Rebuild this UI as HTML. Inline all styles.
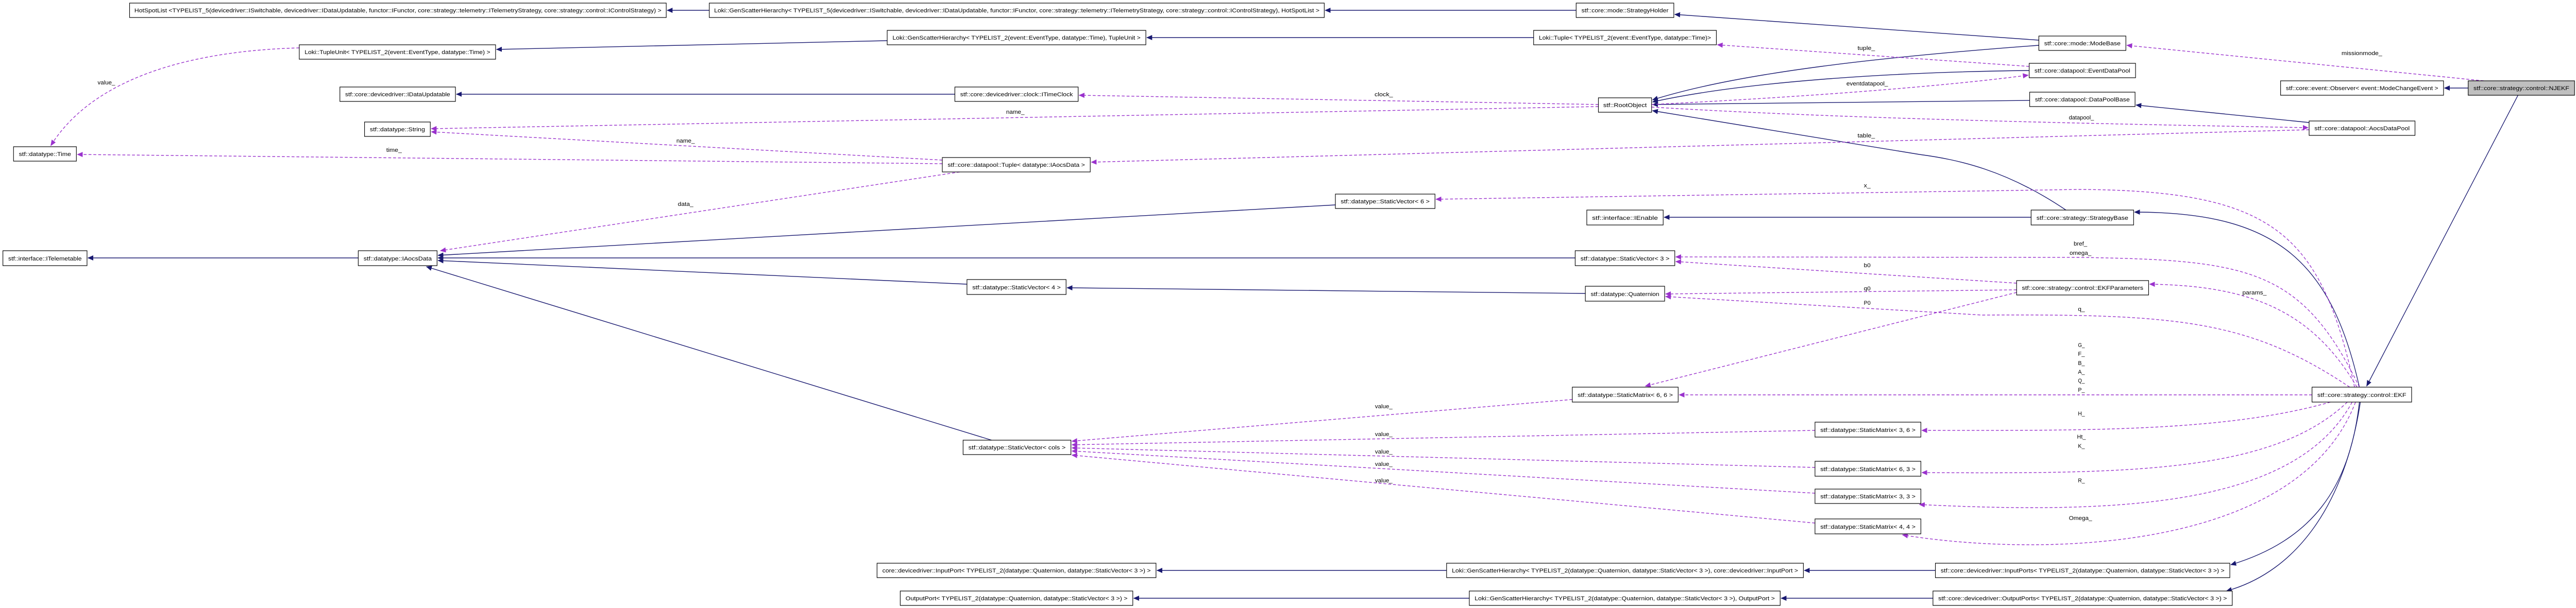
<!DOCTYPE html>
<html><head><meta charset="utf-8"><style>
html,body{margin:0;padding:0;background:#fff;overflow:hidden;width:100%;height:100%;}
#wrap{position:fixed;left:0;top:0;width:100vw;height:100vh;overflow:hidden;}
svg{display:block;width:100%;height:100%;}
text{font-family:"Liberation Sans",sans-serif;font-size:11px;fill:#000;}
.b{fill:#fff;stroke:#000;stroke-width:1.2;}
.s{fill:none;stroke:#191970;stroke-width:1.4;}
.d{fill:none;stroke:#9a32cd;stroke-width:1.4;stroke-dasharray:6,4;}
</style></head><body><div id="wrap">
<svg viewBox="0 0 5328 1181" preserveAspectRatio="none" xmlns="http://www.w3.org/2000/svg">
<defs>
<marker id="an" markerWidth="12" markerHeight="10" refX="11" refY="5" orient="auto" markerUnits="userSpaceOnUse"><path d="M0,0 L12,5 L0,10 z" fill="#191970"/></marker>
<marker id="ap" markerWidth="12" markerHeight="10" refX="11" refY="5" orient="auto" markerUnits="userSpaceOnUse"><path d="M0,0 L12,5 L0,10 z" fill="#9a32cd"/></marker>
</defs>

<g class="s" marker-end="url(#an)">
<path d="M1467,20 L1380,20"/>
<path d="M3260,20 L2741,20"/>
<path d="M4217,78 L3464,28"/>
<path d="M3172,73 L2372,73"/>
<path d="M1835,79 L1027,96"/>
<path d="M4217,88 C3900,110 3600,140 3418,194"/>
<path d="M4197,137 C3900,140 3600,160 3418,198"/>
<path d="M4198,195 L3418,203"/>
<path d="M4273,408 C4150,330 4050,310 3970,300 L3418,215"/>
<path d="M4776,238 L4418,204"/>
<path d="M5105,171 L5056,171"/>
<path d="M1975,183 L944,183"/>
<path d="M4880,752 C4820,500 4700,412 4415,412"/>
<path d="M5208,185 L4895,750"/>
<path d="M4201,422 L3442,422"/>
<path d="M2762,398 L906,496"/>
<path d="M3258,501 L906,501"/>
<path d="M2000,552 L906,506"/>
<path d="M2051,855 L882,518"/>
<path d="M741,501 L182,501"/>
<path d="M3279,570 L2207,559"/>
<path d="M2992,1108 L2393,1108"/>
<path d="M4003,1108 L3732,1108"/>
<path d="M3039,1162 L2345,1162"/>
<path d="M3998,1162 L3684,1162"/>
<path d="M4880,781 C4860,950 4780,1050 4614,1097"/>
<path d="M4882,781 C4850,980 4750,1110 4605,1148"/>
</g>

<g class="d" marker-end="url(#ap)">
<path d="M619,93 C350,100 180,170 105,283"/>
<path d="M1949,318 L160,300"/>
<path d="M3306,207 L892,250"/>
<path d="M1949,311 L892,256"/>
<path d="M3306,203 L2232,185"/>
<path d="M1985,334 L911,487"/>
<path d="M4197,129 L3552,87"/>
<path d="M3416,203 C3700,190 4000,170 4195,146"/>
<path d="M3416,208 C3800,230 4300,240 4774,248"/>
<path d="M4776,252 L2257,315"/>
<path d="M5137,157 L4399,88"/>
<path d="M4870,752 C4800,450 4700,370 4300,368 L2970,387"/>
<path d="M4880,752 C4760,520 4650,505 4300,500 L3466,499"/>
<path d="M4171,550 L3466,508"/>
<path d="M4171,563 L3445,571"/>
<path d="M4171,568 L3403,750"/>
<path d="M4860,752 C4650,620 4500,610 4100,612 L3445,576"/>
<path d="M4875,752 C4780,600 4650,555 4446,552"/>
<path d="M4782,767 L3473,767"/>
<path d="M4820,781 C4600,840 4300,836 3975,836"/>
<path d="M4855,781 C4700,920 4400,920 3975,918"/>
<path d="M4865,781 C4750,980 4400,1000 3970,980"/>
<path d="M4872,781 C4750,1080 4200,1080 3935,1039"/>
<path d="M3252,776 L2217,857"/>
<path d="M3754,836 L2217,864"/>
<path d="M3754,908 L2217,870"/>
<path d="M3754,958 L2217,876"/>
<path d="M3754,1016 L2217,884"/>
</g>

<g>
<rect class="b" x="268" y="6" width="1110" height="28"/><text x="278" y="24" textLength="1090" lengthAdjust="spacingAndGlyphs">HotSpotList &lt;TYPELIST_5(devicedriver::ISwitchable, devicedriver::IDataUpdatable, functor::IFunctor, core::strategy::telemetry::ITelemetryStrategy, core::strategy::control::IControlStrategy) &gt;</text>
<rect class="b" x="1467" y="6" width="1272" height="28"/><text x="1477" y="24" textLength="1252" lengthAdjust="spacingAndGlyphs">Loki::GenScatterHierarchy&lt; TYPELIST_5(devicedriver::ISwitchable, devicedriver::IDataUpdatable, functor::IFunctor, core::strategy::telemetry::ITelemetryStrategy, core::strategy::control::IControlStrategy), HotSpotList &gt;</text>
<rect class="b" x="3260" y="6" width="202" height="28"/><text x="3271" y="24" textLength="180" lengthAdjust="spacingAndGlyphs">stf::core::mode::StrategyHolder</text>
<rect class="b" x="619" y="87" width="406" height="28"/><text x="630" y="105" textLength="384" lengthAdjust="spacingAndGlyphs">Loki::TupleUnit&lt; TYPELIST_2(event::EventType, datatype::Time) &gt;</text>
<rect class="b" x="1835" y="59" width="535" height="28"/><text x="1846" y="77" textLength="513" lengthAdjust="spacingAndGlyphs">Loki::GenScatterHierarchy&lt; TYPELIST_2(event::EventType, datatype::Time), TupleUnit &gt;</text>
<rect class="b" x="3172" y="59" width="378" height="28"/><text x="3183" y="77" textLength="356" lengthAdjust="spacingAndGlyphs">Loki::Tuple&lt; TYPELIST_2(event::EventType, datatype::Time)&gt;</text>
<rect class="b" x="4217" y="70" width="180" height="28"/><text x="4228" y="88" textLength="158" lengthAdjust="spacingAndGlyphs">stf::core::mode::ModeBase</text>
<rect class="b" x="4197" y="123" width="220" height="28"/><text x="4208" y="141" textLength="198" lengthAdjust="spacingAndGlyphs">stf::core::datapool::EventDataPool</text>
<rect class="b" x="703" y="169" width="239" height="28"/><text x="714" y="187" textLength="217" lengthAdjust="spacingAndGlyphs">stf::core::devicedriver::IDataUpdatable</text>
<rect class="b" x="1975" y="169" width="255" height="28"/><text x="1986" y="187" textLength="233" lengthAdjust="spacingAndGlyphs">stf::core::devicedriver::clock::ITimeClock</text>
<rect class="b" x="3306" y="190" width="110" height="28"/><text x="3316" y="208" textLength="90" lengthAdjust="spacingAndGlyphs">stf::RootObject</text>
<rect class="b" x="4717" y="157" width="337" height="28"/><text x="4728" y="175" textLength="315" lengthAdjust="spacingAndGlyphs">stf::core::event::Observer&lt; event::ModeChangeEvent &gt;</text>
<rect x="5105" y="157" width="220" height="28" fill="#bfbfbf" stroke="#000" stroke-width="1.2"/><text x="5116" y="175" textLength="198" lengthAdjust="spacingAndGlyphs">stf::core::strategy::control::NJEKF</text>
<rect class="b" x="4198" y="179" width="218" height="28"/><text x="4209" y="197" textLength="196" lengthAdjust="spacingAndGlyphs">stf::core::datapool::DataPoolBase</text>
<rect class="b" x="754" y="237" width="136" height="28"/><text x="765" y="255" textLength="114" lengthAdjust="spacingAndGlyphs">stf::datatype::String</text>
<rect class="b" x="4776" y="235" width="219" height="28"/><text x="4787" y="253" textLength="197" lengthAdjust="spacingAndGlyphs">stf::core::datapool::AocsDataPool</text>
<rect class="b" x="28" y="285" width="130" height="28"/><text x="39" y="303" textLength="108" lengthAdjust="spacingAndGlyphs">stf::datatype::Time</text>
<rect class="b" x="1949" y="306" width="306" height="28"/><text x="1960" y="324" textLength="284" lengthAdjust="spacingAndGlyphs">stf::core::datapool::Tuple&lt; datatype::IAocsData &gt;</text>
<rect class="b" x="2762" y="377" width="206" height="28"/><text x="2773" y="395" textLength="184" lengthAdjust="spacingAndGlyphs">stf::datatype::StaticVector&lt; 6 &gt;</text>
<rect class="b" x="3282" y="408" width="158" height="29"/><text x="3293" y="427" textLength="136" lengthAdjust="spacingAndGlyphs">stf::interface::IEnable</text>
<rect class="b" x="4201" y="408" width="212" height="29"/><text x="4212" y="427" textLength="190" lengthAdjust="spacingAndGlyphs">stf::core::strategy::StrategyBase</text>
<rect class="b" x="6" y="487" width="174" height="29"/><text x="17" y="506" textLength="152" lengthAdjust="spacingAndGlyphs">stf::interface::ITelemetable</text>
<rect class="b" x="741" y="487" width="163" height="29"/><text x="752" y="506" textLength="141" lengthAdjust="spacingAndGlyphs">stf::datatype::IAocsData</text>
<rect class="b" x="3258" y="487" width="206" height="29"/><text x="3269" y="506" textLength="184" lengthAdjust="spacingAndGlyphs">stf::datatype::StaticVector&lt; 3 &gt;</text>
<rect class="b" x="4171" y="545" width="273" height="28"/><text x="4182" y="563" textLength="251" lengthAdjust="spacingAndGlyphs">stf::core::strategy::control::EKFParameters</text>
<rect class="b" x="2000" y="543" width="205" height="29"/><text x="2011" y="562" textLength="183" lengthAdjust="spacingAndGlyphs">stf::datatype::StaticVector&lt; 4 &gt;</text>
<rect class="b" x="3279" y="556" width="164" height="29"/><text x="3290" y="575" textLength="142" lengthAdjust="spacingAndGlyphs">stf::datatype::Quaternion</text>
<rect class="b" x="3252" y="752" width="219" height="29"/><text x="3263" y="771" textLength="197" lengthAdjust="spacingAndGlyphs">stf::datatype::StaticMatrix&lt; 6, 6 &gt;</text>
<rect class="b" x="4782" y="752" width="206" height="29"/><text x="4793" y="771" textLength="184" lengthAdjust="spacingAndGlyphs">stf::core::strategy::control::EKF</text>
<rect class="b" x="3754" y="820" width="219" height="29"/><text x="3765" y="839" textLength="197" lengthAdjust="spacingAndGlyphs">stf::datatype::StaticMatrix&lt; 3, 6 &gt;</text>
<rect class="b" x="1992" y="855" width="223" height="28"/><text x="2003" y="873" textLength="201" lengthAdjust="spacingAndGlyphs">stf::datatype::StaticVector&lt; cols &gt;</text>
<rect class="b" x="3754" y="896" width="219" height="29"/><text x="3765" y="915" textLength="197" lengthAdjust="spacingAndGlyphs">stf::datatype::StaticMatrix&lt; 6, 3 &gt;</text>
<rect class="b" x="3754" y="950" width="219" height="28"/><text x="3765" y="968" textLength="197" lengthAdjust="spacingAndGlyphs">stf::datatype::StaticMatrix&lt; 3, 3 &gt;</text>
<rect class="b" x="3754" y="1008" width="219" height="29"/><text x="3765" y="1027" textLength="197" lengthAdjust="spacingAndGlyphs">stf::datatype::StaticMatrix&lt; 4, 4 &gt;</text>
<rect class="b" x="1814" y="1094" width="577" height="28"/><text x="1825" y="1112" textLength="555" lengthAdjust="spacingAndGlyphs">core::devicedriver::InputPort&lt; TYPELIST_2(datatype::Quaternion, datatype::StaticVector&lt; 3 &gt;) &gt;</text>
<rect class="b" x="2992" y="1094" width="738" height="28"/><text x="3003" y="1112" textLength="716" lengthAdjust="spacingAndGlyphs">Loki::GenScatterHierarchy&lt; TYPELIST_2(datatype::Quaternion, datatype::StaticVector&lt; 3 &gt;), core::devicedriver::InputPort &gt;</text>
<rect class="b" x="4003" y="1094" width="609" height="28"/><text x="4014" y="1112" textLength="587" lengthAdjust="spacingAndGlyphs">stf::core::devicedriver::InputPorts&lt; TYPELIST_2(datatype::Quaternion, datatype::StaticVector&lt; 3 &gt;) &gt;</text>
<rect class="b" x="1862" y="1148" width="481" height="28"/><text x="1873" y="1166" textLength="459" lengthAdjust="spacingAndGlyphs">OutputPort&lt; TYPELIST_2(datatype::Quaternion, datatype::StaticVector&lt; 3 &gt;) &gt;</text>
<rect class="b" x="3039" y="1148" width="643" height="28"/><text x="3050" y="1166" textLength="621" lengthAdjust="spacingAndGlyphs">Loki::GenScatterHierarchy&lt; TYPELIST_2(datatype::Quaternion, datatype::StaticVector&lt; 3 &gt;), OutputPort &gt;</text>
<rect class="b" x="3998" y="1148" width="619" height="28"/><text x="4009" y="1166" textLength="597" lengthAdjust="spacingAndGlyphs">stf::core::devicedriver::OutputPorts&lt; TYPELIST_2(datatype::Quaternion, datatype::StaticVector&lt; 3 &gt;) &gt;</text>
</g>

<g text-anchor="middle">
<text x="220" y="164" textLength="36" lengthAdjust="spacingAndGlyphs">value_</text>
<text x="815" y="295" textLength="32" lengthAdjust="spacingAndGlyphs">time_</text>
<text x="2100" y="221" textLength="38" lengthAdjust="spacingAndGlyphs">name_</text>
<text x="1418" y="277" textLength="38" lengthAdjust="spacingAndGlyphs">name_</text>
<text x="1418" y="400" textLength="32" lengthAdjust="spacingAndGlyphs">data_</text>
<text x="2862" y="187" textLength="38" lengthAdjust="spacingAndGlyphs">clock_</text>
<text x="3860" y="97" textLength="36" lengthAdjust="spacingAndGlyphs">tuple_</text>
<text x="3862" y="166" textLength="86" lengthAdjust="spacingAndGlyphs">eventdatapool_</text>
<text x="3860" y="267" textLength="36" lengthAdjust="spacingAndGlyphs">table_</text>
<text x="3862" y="364" textLength="14" lengthAdjust="spacingAndGlyphs">x_</text>
<text x="4885" y="107" textLength="84" lengthAdjust="spacingAndGlyphs">missionmode_</text>
<text x="4305" y="232" textLength="52" lengthAdjust="spacingAndGlyphs">datapool_</text>
<text x="4303" y="477" textLength="28" lengthAdjust="spacingAndGlyphs">bref_</text>
<text x="4303" y="495" textLength="45" lengthAdjust="spacingAndGlyphs">omega_</text>
<text x="4663" y="572" textLength="50" lengthAdjust="spacingAndGlyphs">params_</text>
<text x="3862" y="519" textLength="14" lengthAdjust="spacingAndGlyphs">b0</text>
<text x="3862" y="564" textLength="14" lengthAdjust="spacingAndGlyphs">q0</text>
<text x="3862" y="592" textLength="14" lengthAdjust="spacingAndGlyphs">P0</text>
<text x="4305" y="604" textLength="14" lengthAdjust="spacingAndGlyphs">q_</text>
<text x="4305" y="674" textLength="14" lengthAdjust="spacingAndGlyphs">G_</text>
<text x="4305" y="691" textLength="14" lengthAdjust="spacingAndGlyphs">F_</text>
<text x="4305" y="709" textLength="14" lengthAdjust="spacingAndGlyphs">B_</text>
<text x="4305" y="726" textLength="14" lengthAdjust="spacingAndGlyphs">A_</text>
<text x="4305" y="743" textLength="14" lengthAdjust="spacingAndGlyphs">Q_</text>
<text x="4305" y="761" textLength="14" lengthAdjust="spacingAndGlyphs">P_</text>
<text x="4305" y="807" textLength="14" lengthAdjust="spacingAndGlyphs">H_</text>
<text x="4305" y="852" textLength="18" lengthAdjust="spacingAndGlyphs">Ht_</text>
<text x="4305" y="870" textLength="14" lengthAdjust="spacingAndGlyphs">K_</text>
<text x="4305" y="937" textLength="14" lengthAdjust="spacingAndGlyphs">R_</text>
<text x="4303" y="1010" textLength="48" lengthAdjust="spacingAndGlyphs">Omega_</text>
<text x="2862" y="793" textLength="36" lengthAdjust="spacingAndGlyphs">value_</text>
<text x="2862" y="847" textLength="36" lengthAdjust="spacingAndGlyphs">value_</text>
<text x="2862" y="881" textLength="36" lengthAdjust="spacingAndGlyphs">value_</text>
<text x="2862" y="905" textLength="36" lengthAdjust="spacingAndGlyphs">value_</text>
<text x="2862" y="937" textLength="36" lengthAdjust="spacingAndGlyphs">value_</text>
</g>
</svg>
</div></body></html>
